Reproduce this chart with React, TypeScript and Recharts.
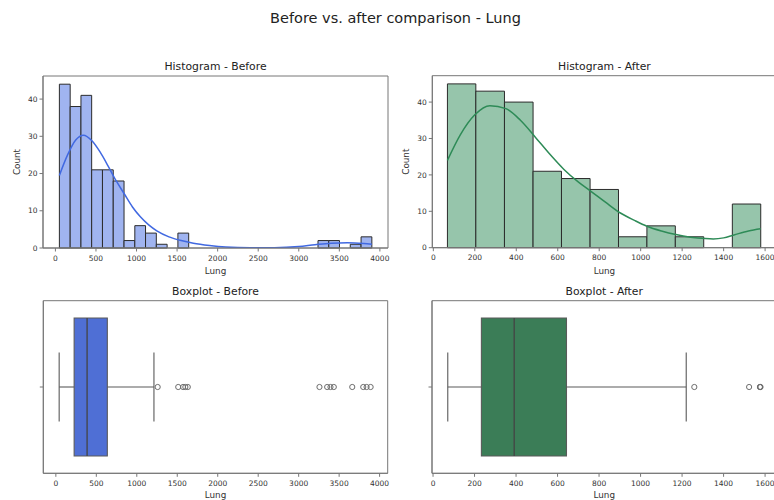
import React from 'react';
import { ComposedChart, Line, XAxis, YAxis, ReferenceArea, ReferenceLine, Scatter } from 'recharts';

const FONT = '"DejaVu Sans", "Liberation Sans", sans-serif';
const AXIS = '#777777';
const TXT = '#333333';
const BOXLINE = '#5a5a5a';

// ---------- data ----------
const beforeEdges = [49, 182, 315, 447, 580, 713, 846, 979, 1111, 1244, 1377, 1510, 1643, 1776, 1909, 2041, 2174, 2307, 2440, 2573, 2705, 2838, 2971, 3104, 3237, 3370, 3502, 3635, 3768, 3901];
const beforeCounts = [44, 38, 41, 21, 21, 18, 2, 6, 4, 1, 0, 4, 0, 0, 0, 0, 0, 0, 0, 0, 0, 0, 0, 0, 2, 2, 0, 1, 3];

const afterEdges = [68, 205, 343, 481, 618, 756, 893, 1030, 1167, 1304, 1442, 1579];
const afterCounts = [45, 43, 40, 21, 19, 16, 3, 6, 3, 0, 12];

const beforeKdeX = [49, 150, 250, 345, 450, 550, 650, 750, 850, 950, 1050, 1150, 1250, 1400, 1550, 1700, 1900, 2100, 2400, 2700, 3000, 3200, 3400, 3600, 3800, 3901];
const beforeKdeY = [19.5, 25, 29, 30.3, 28.8, 25.8, 22, 18, 14.5, 11, 8.3, 6.2, 4.6, 3, 2, 1.3, 0.7, 0.3, 0.1, 0.1, 0.4, 0.9, 1.3, 1.4, 1.2, 1.0];

const afterKdeX = [68, 130, 200, 273, 350, 420, 490, 560, 630, 700, 760, 830, 900, 970, 1030, 1100, 1170, 1240, 1310, 1350, 1400, 1450, 1520, 1579];
const afterKdeY = [24, 31, 36.5, 39, 38.2, 35, 30.5, 25.8, 21.5, 18, 15.5, 12.5, 9.6, 7.5, 5.9, 4.6, 3.6, 2.9, 2.5, 2.4, 2.7, 3.5, 4.6, 5.2];

// whisker low, q1, median, q3, whisker high
const beforeBoxStats = [41, 226, 386, 636, 1212];
const afterBoxStats = [71, 233, 391, 643, 1220];
const beforeOutliers = [1258, 1512, 1572, 1600, 1630, 3257, 3352, 3393, 3434, 3662, 3798, 3839, 3889];
const afterOutliers = [1259, 1523, 1575, 1576, 1578];

const beforeXTicks = [0, 500, 1000, 1500, 2000, 2500, 3000, 3500, 4000];
const afterXTicks = [0, 200, 400, 600, 800, 1000, 1200, 1400, 1600];
const countTicks = [0, 10, 20, 30, 40];

type Margin = { top: number; right: number; bottom: number; left: number };

function Hist(props: {
  left: number; top: number; width: number; height: number; margin: Margin;
  yAxisWidth: number; xAxisHeight: number; countOffset: number;
  edges: number[]; counts: number[]; kdeX: number[]; kdeY: number[];
  barFill: string; lineColor: string; xDomain: [number, number]; yMax: number; xTicks: number[];
}) {
  const data = props.kdeX.map((x, i) => ({ x, y: props.kdeY[i] }));
  return (
    <div style={{ position: 'absolute', left: props.left, top: props.top, width: props.width, height: props.height }}>
      <ComposedChart width={props.width} height={props.height} data={data} margin={props.margin}>
        <XAxis
          dataKey="x" type="number" domain={props.xDomain} ticks={props.xTicks} allowDataOverflow interval={0}
          height={props.xAxisHeight} tickSize={3.5} tickMargin={3.7}
          axisLine={{ stroke: AXIS }} tickLine={{ stroke: AXIS }}
          tick={{ fontSize: 7.5, fill: TXT }}
          label={{ value: 'Lung', position: 'insideBottom', offset: 0, fontSize: 8.8, fill: TXT }}
        />
        <YAxis
          dataKey="y" type="number" domain={[0, props.yMax]} ticks={countTicks} allowDataOverflow interval={0}
          width={props.yAxisWidth} tickSize={3.5} tickMargin={2}
          axisLine={{ stroke: AXIS }} tickLine={{ stroke: AXIS }}
          tick={{ fontSize: 7.5, fill: TXT }}
          label={{ value: 'Count', angle: -90, position: 'insideLeft', offset: props.countOffset, fontSize: 8.8, fill: TXT, style: { textAnchor: 'middle' } }}
        />
        {props.counts.map((c, i) =>
          c > 0 ? (
            <ReferenceArea
              key={'b' + i}
              x1={props.edges[i]} x2={props.edges[i + 1]} y1={0} y2={c}
              fill={props.barFill} fillOpacity={1} stroke="#2b2b2b" strokeWidth={1}
            />
          ) : null
        )}
        <ReferenceArea
          x1={props.xDomain[0]} x2={props.xDomain[1]} y1={0} y2={props.yMax}
          fill="none" fillOpacity={0} stroke={AXIS} strokeWidth={1} ifOverflow="visible"
        />
        <Line dataKey="y" type="monotone" stroke={props.lineColor} strokeWidth={1.5} dot={false} isAnimationActive={false} />
      </ComposedChart>
    </div>
  );
}

function Box(props: {
  left: number; top: number; width: number; height: number; margin: Margin;
  yAxisWidth: number; xAxisHeight: number;
  stats: number[]; outliers: number[]; boxFill: string;
  xDomain: [number, number]; xTicks: number[];
}) {
  const data = props.outliers.map((x) => ({ x, y: 0 }));
  const [wl, q1, med, q3, wh] = props.stats;
  return (
    <div style={{ position: 'absolute', left: props.left, top: props.top, width: props.width, height: props.height }}>
      <ComposedChart width={props.width} height={props.height} data={data} margin={props.margin}>
        <XAxis
          dataKey="x" type="number" domain={props.xDomain} ticks={props.xTicks} allowDataOverflow interval={0}
          height={props.xAxisHeight} tickSize={3.5} tickMargin={3.9}
          axisLine={{ stroke: AXIS }} tickLine={{ stroke: AXIS }}
          tick={{ fontSize: 7.5, fill: TXT }}
          label={{ value: 'Lung', position: 'insideBottom', offset: 0, fontSize: 8.8, fill: TXT }}
        />
        <YAxis
          dataKey="y" type="number" domain={[-0.5, 0.5]} ticks={[0]} allowDataOverflow interval={0}
          width={props.yAxisWidth} tickSize={3.5} tickMargin={2} tickFormatter={() => ''}
          axisLine={{ stroke: AXIS }} tickLine={{ stroke: AXIS }}
        />
        <ReferenceArea
          x1={props.xDomain[0]} x2={props.xDomain[1]} y1={-0.5} y2={0.5}
          fill="none" fillOpacity={0} stroke={AXIS} strokeWidth={1} ifOverflow="visible"
        />
        <ReferenceLine segment={[{ x: wl, y: 0 }, { x: q1, y: 0 }]} stroke={BOXLINE} strokeWidth={1.1} />
        <ReferenceLine segment={[{ x: q3, y: 0 }, { x: wh, y: 0 }]} stroke={BOXLINE} strokeWidth={1.1} />
        <ReferenceLine segment={[{ x: wl, y: -0.2 }, { x: wl, y: 0.2 }]} stroke={BOXLINE} strokeWidth={1.1} />
        <ReferenceLine segment={[{ x: wh, y: -0.2 }, { x: wh, y: 0.2 }]} stroke={BOXLINE} strokeWidth={1.1} />
        <ReferenceArea x1={q1} x2={q3} y1={-0.4} y2={0.4} fill={props.boxFill} fillOpacity={1} stroke={BOXLINE} strokeWidth={1.1} />
        <ReferenceLine segment={[{ x: med, y: -0.4 }, { x: med, y: 0.4 }]} stroke="#444444" strokeWidth={1.3} />
        <Scatter
          dataKey="y" isAnimationActive={false}
          shape={(p: any) => <circle cx={p.cx} cy={p.cy} r={2.6} fill="none" stroke="#6e6e6e" strokeWidth={1} />}
        />
      </ComposedChart>
    </div>
  );
}

export default function App() {
  return (
    <div style={{ position: 'fixed', left: 0, top: 0, width: 774, height: 500, overflow: 'hidden', background: '#ffffff', fontFamily: FONT }}>
      <Hist
        left={0} top={55} width={400} height={225}
        margin={{ top: 21, right: 12, bottom: 6.3, left: 0 }}
        yAxisWidth={43} xAxisHeight={25.7} countOffset={17}
        edges={beforeEdges} counts={beforeCounts} kdeX={beforeKdeX} kdeY={beforeKdeY}
        barFill="#a0b4f0" lineColor="#4169e1" xDomain={[-153, 4100]} yMax={46.2} xTicks={beforeXTicks}
      />
      <Hist
        left={390} top={55} width={400} height={225}
        margin={{ top: 20.7, right: 13.5, bottom: 6.3, left: 0 }}
        yAxisWidth={42.3} xAxisHeight={26} countOffset={15.5}
        edges={afterEdges} counts={afterCounts} kdeX={afterKdeX} kdeY={afterKdeY}
        barFill="#96c5ab" lineColor="#2e8b57" xDomain={[-5, 1655]} yMax={47.25} xTicks={afterXTicks}
      />
      <Box
        left={0} top={280} width={400} height={220}
        margin={{ top: 20.7, right: 12.3, bottom: 2, left: 0 }}
        yAxisWidth={43.3} xAxisHeight={24.7}
        stats={beforeBoxStats} outliers={beforeOutliers} boxFill="#4f6fd5"
        xDomain={[-155, 4100]} xTicks={beforeXTicks}
      />
      <Box
        left={390} top={280} width={400} height={220}
        margin={{ top: 20.7, right: 13.5, bottom: 2, left: 0 }}
        yAxisWidth={42} xAxisHeight={24.7}
        stats={afterBoxStats} outliers={afterOutliers} boxFill="#3b7d57"
        xDomain={[-5, 1655]} xTicks={afterXTicks}
      />
      <svg width={774} height={500} style={{ position: 'absolute', left: 0, top: 0, pointerEvents: 'none' }}>
        <text x={395.5} y={23.3} textAnchor="middle" fontSize={14.5} fill="#222">Before vs. after comparison - Lung</text>
        <text x={215.5} y={69.6} textAnchor="middle" fontSize={10.8} fill="#222">Histogram - Before</text>
        <text x={604.4} y={69.6} textAnchor="middle" fontSize={10.8} fill="#222">Histogram - After</text>
        <text x={215.5} y={294.6} textAnchor="middle" fontSize={10.8} fill="#222">Boxplot - Before</text>
        <text x={604.2} y={294.6} textAnchor="middle" fontSize={10.8} fill="#222">Boxplot - After</text>
      </svg>
    </div>
  );
}
